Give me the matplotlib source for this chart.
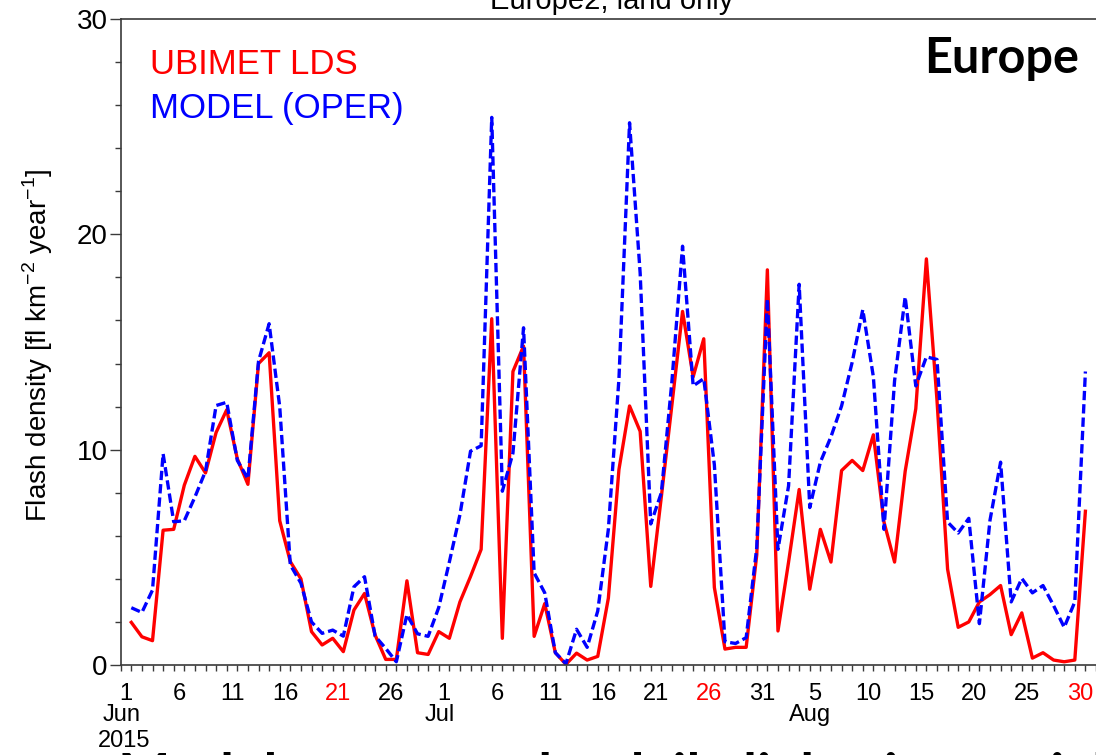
"""Daily flash density, Europe (land only), Jun-Aug 2015: UBIMET LDS vs model."""
import matplotlib
matplotlib.use("Agg")
import matplotlib.pyplot as plt
from matplotlib import font_manager
from matplotlib.ticker import MultipleLocator, FixedLocator

# daily values, plotted at the end of each day (day 1 = end of 1 Jun)
ubimet_lds = [1.98, 1.31, 1.13, 6.26, 6.30, 8.35, 9.69, 8.92, 10.8, 11.85,
              9.58, 8.39, 14.0, 14.5, 6.70, 4.80, 4.00, 1.55, 0.93, 1.24,
              0.62, 2.55, 3.32, 1.39, 0.26, 0.26, 3.91, 0.57, 0.49, 1.55,
              1.24, 2.93, 4.11, 5.37, 16.08, 1.24, 13.63, 14.81, 1.33, 2.85,
              0.57, 0.03, 0.55, 0.23, 0.40, 3.10, 9.08, 12.03, 10.85, 3.65,
              7.82, 12.1, 16.42, 13.38, 15.15, 3.60, 0.74, 0.82, 0.82, 5.12,
              18.35, 1.58, 4.78, 8.15, 3.52, 6.30, 4.78, 9.03, 9.50, 9.03,
              10.69, 6.64, 4.78, 9.00, 11.9, 18.86, 12.3, 4.45, 1.75, 2.00,
              2.93, 3.27, 3.69, 1.41, 2.42, 0.32, 0.57, 0.23, 0.15, 0.23,
              7.14]
model_oper = [2.66, 2.44, 3.48, 9.81, 6.65, 6.70, 7.80, 9.00, 12.05, 12.2,
              9.50, 8.65, 14.1, 15.85, 12.0, 4.65, 3.80, 2.00, 1.47, 1.62,
              1.34, 3.63, 4.10, 1.34, 0.77, 0.15, 2.34, 1.45, 1.33, 2.67,
              4.78, 6.98, 9.93, 10.18, 25.43, 8.07, 9.84, 15.66, 4.28, 3.35,
              0.57, 0.06, 1.66, 0.82, 2.51, 6.30, 13.3, 25.18, 18.2, 6.55,
              8.00, 13.2, 19.45, 12.96, 13.30, 9.30, 1.08, 1.00, 1.27, 5.46,
              17.0, 5.37, 8.32, 17.68, 7.31, 9.42, 10.6, 12.03, 14.06, 16.5,
              13.38, 6.30, 13.2, 17.09, 12.96, 14.31, 14.19, 6.64, 6.13, 6.81,
              1.92, 6.72, 9.42, 2.93, 4.02, 3.35, 3.69, 2.76, 1.75, 2.93,
              13.63]
days = list(range(1, len(ubimet_lds) + 1))

# 5-day tick labels (day index from 1 Jun), Sundays in red
tick_days = [0, 5, 10, 15, 20, 25, 30, 35, 40, 45, 50, 55, 60, 65, 70, 75, 80, 85, 90]
tick_labels = ["1", "6", "11", "16", "21", "26", "1", "6", "11", "16", "21",
               "26", "31", "5", "10", "15", "20", "25", "30"]
sunday_labels = [20, 55, 90]
months = ["Jun", "Jul", "Aug"]
month_days = [0, 30, 65]

C_OBS, C_MOD = "#ff0000", "#0000ff"
AXC = "#3a3a3a"


def pick(*names):
    have = {f.name for f in font_manager.fontManager.ttflist}
    for n in names:
        if n in have:
            return n
    return "DejaVu Sans"


SANS = pick("Liberation Sans", "Arial", "DejaVu Sans")
NARROW = pick("Liberation Sans Narrow", "DejaVu Sans Condensed", "Liberation Sans")
BOLD = pick("Lato", "Open Sans", "DejaVu Sans")
plt.rcParams["font.family"] = [SANS, "DejaVu Sans"]
plt.rcParams["mathtext.fontset"] = "custom"
plt.rcParams["mathtext.rm"] = SANS

W, H = 1096, 755
fig = plt.figure(figsize=(W / 100, H / 100), dpi=100)
ax = fig.add_axes([120.7 / W, 90 / H, 975.3 / W, 646 / H])

ax.plot(days, ubimet_lds, color=C_OBS, lw=2.4)
ax.plot(days, model_oper, color=C_MOD, lw=2.4, dashes=(2.8, 1.2))

ax.set_xlim(0, 92)
ax.set_ylim(0, 30)
ax.spines["right"].set_visible(False)
for s in ("left", "bottom", "top"):
    ax.spines[s].set_color(AXC)
    ax.spines[s].set_linewidth(1.2)

ax.yaxis.set_major_locator(MultipleLocator(10))
ax.yaxis.set_minor_locator(MultipleLocator(2))
ax.tick_params(axis="y", which="major", direction="out", length=8, width=1,
               color=AXC, labelsize=20, pad=1.5)
ax.tick_params(axis="y", which="minor", direction="out", length=4, width=1, color=AXC)

# day boundaries as minor ticks, labels centred on the days
ax.xaxis.set_minor_locator(MultipleLocator(1))
ax.xaxis.set_major_locator(FixedLocator([d + 0.5 for d in tick_days]))
ax.set_xticklabels(tick_labels)
ax.tick_params(axis="x", which="major", length=0, pad=13, labelsize=17)
ax.tick_params(axis="x", which="minor", direction="out", length=4.5, width=1, color=AXC)
for d, lab in zip(tick_days, ax.get_xticklabels()):
    lab.set_family([NARROW, "DejaVu Sans"])
    if d in sunday_labels:
        lab.set_color(C_OBS)

for m, d in zip(months, month_days):
    ax.text(d + 0.05, -0.078, m, transform=ax.get_xaxis_transform(), ha="center",
            va="center", fontsize=17, family=[NARROW, "DejaVu Sans"])
ax.text(0.3, -0.117, "2015", transform=ax.get_xaxis_transform(), ha="center",
        va="center", fontsize=17, family=[NARROW, "DejaVu Sans"])

fig.text(38 / W, 1 - 345 / H, r"Flash density [fl km$^{{-}2}$ year$^{{-}1}$]",
         rotation=90, ha="center", va="center", fontsize=20)
fig.text(150 / W, 1 - 74 / H, "UBIMET LDS", color=C_OBS, fontsize=25, va="baseline")
fig.text(150 / W, 1 - 118 / H, "MODEL (OPER)", color=C_MOD, fontsize=25, va="baseline")
fig.text(1079 / W, 1 - 73 / H, "Europe", ha="right", va="baseline", fontsize=35,
         fontweight="bold", family=[BOLD, "DejaVu Sans"])
fig.text(612 / W, 1 - 9 / H, "Europe2, land only", ha="center", va="baseline", fontsize=21)
# caption of the slide below the chart, only its top edge shows
fig.text(118 / W, 1 - 793 / H, "Model captures the daily lightning variability well",
         ha="left", va="baseline", fontsize=40, fontweight="bold",
         family=[BOLD, "DejaVu Sans"])

fig.savefig("out.png", dpi=100, facecolor="white")
